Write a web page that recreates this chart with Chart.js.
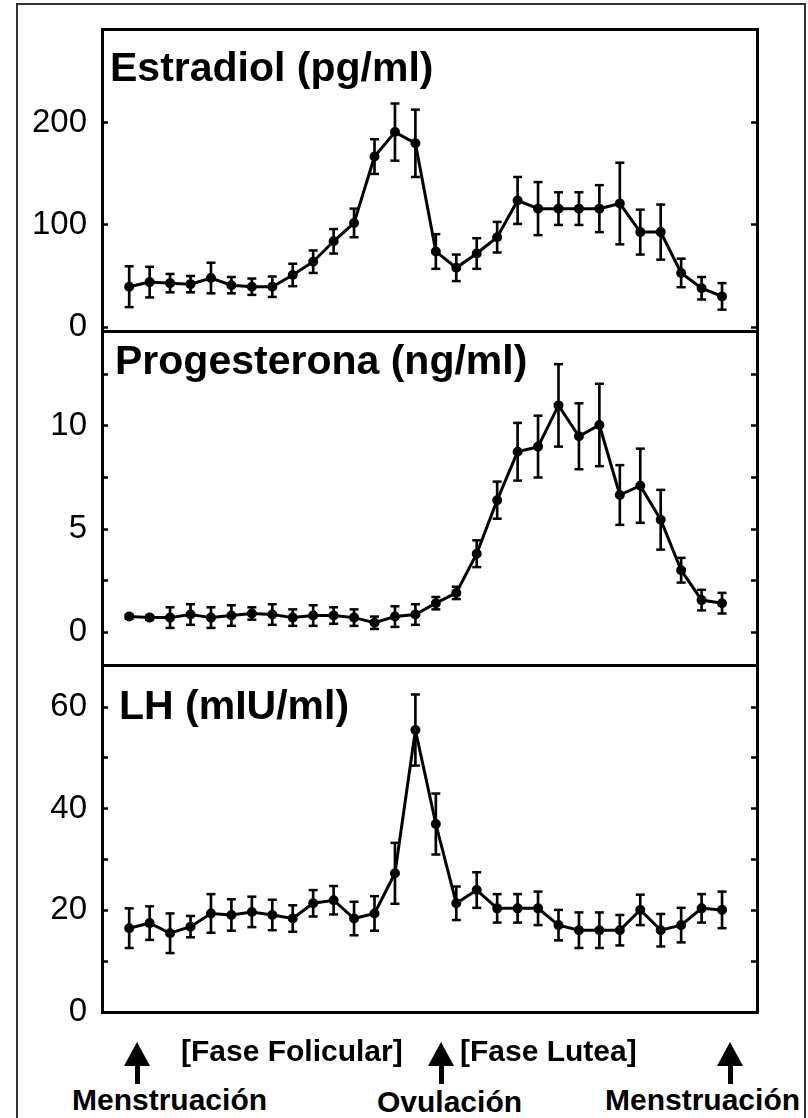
<!DOCTYPE html>
<html>
<head>
<meta charset="utf-8">
<title>Ciclo menstrual - hormonas</title>
<script src="https://cdn.jsdelivr.net/npm/chart.js@4/dist/chart.umd.min.js"></script>
<style>
  body { margin: 0; width: 808px; height: 1118px; overflow: hidden; background: #fff; position: relative;
         font-family: "Liberation Sans", Arial, sans-serif; color: #000; }
  #frame { position: absolute; left: 16px; top: 3px; width: 786px; height: 1140px; border: 2px solid #333; }
  canvas { position: absolute; left: 0; }
  .title { position: absolute; font-weight: bold; font-size: 41px; line-height: 41px; white-space: nowrap; }
  .note { position: absolute; font-weight: bold; font-size: 30px; line-height: 30px; white-space: nowrap; }
  .head { position: absolute; width: 0; height: 0; border-left: 13px solid transparent;
          border-right: 13px solid transparent; border-bottom: 24px solid #000; }
  .shaft { position: absolute; width: 5px; height: 18px; background: #000; }
</style>
</head>
<body>
<div id="frame"></div>

<canvas id="estCanvas" width="808" height="322" style="top:19px"></canvas>
<canvas id="progCanvas" width="808" height="354" style="top:321px"></canvas>
<canvas id="lhCanvas" width="808" height="380" style="top:655px"></canvas>

<div class="title" style="left:110px; top:47px">Estradiol (pg/ml)</div>
<div class="title" style="left:115px; top:340px">Progesterona (ng/ml)</div>
<div class="title" style="left:119px; top:685px">LH (mIU/ml)</div>

<!-- fases y eventos bajo el eje -->
<div class="note" style="left:181px; top:1036px">[Fase Folicular]</div>
<div class="note" style="left:460px; top:1036px">[Fase Lutea]</div>
<div class="note" style="left:72px; top:1085px">Menstruación</div>
<div class="note" style="left:377px; top:1087px">Ovulación</div>
<div class="note" style="left:605px; top:1085px">Menstruación</div>

<div class="head" style="left:124px; top:1042px"></div><div class="shaft" style="left:135px; top:1066px"></div>
<div class="head" style="left:428px; top:1042px"></div><div class="shaft" style="left:439px; top:1066px"></div>
<div class="head" style="left:717px; top:1042px"></div><div class="shaft" style="left:728px; top:1066px"></div>

<script>
// Days of the cycle (x values)
const days = [1, 2, 3, 4, 5, 6, 7, 8, 9, 10, 11, 12, 13, 14, 15,
              16, 17, 18, 19, 20, 21, 22, 23, 24, 25, 26, 27, 28, 29, 30];

// Estradiol (pg/ml) mean and error
const estradiol = [39.5, 44, 43, 42, 48, 41, 39.5, 39.5, 51, 64, 84, 102, 167, 191, 180,
                   74, 58, 72, 88, 124, 116, 116, 116, 116, 121, 93, 93, 53, 38, 30];
const estradiolErr = [20, 15, 9, 8, 15, 8, 8, 10, 11, 11, 12, 14, 17, 28, 33,
                      17, 13, 15, 15, 23, 26, 16, 16, 23, 40, 22, 27, 14, 11, 13];
const estradiolTicks = [0, 100, 200];
const estradiolLabels = [0, 100, 200];

// Progesterona (ng/ml) mean and error
const progesterone = [0.75, 0.7, 0.7, 0.85, 0.7, 0.8, 0.9, 0.85, 0.7, 0.8, 0.8, 0.7, 0.45, 0.75, 0.85,
                      1.4, 1.9, 3.8, 6.4, 8.75, 9.0, 11.0, 9.5, 10.05, 6.65, 7.1, 5.45, 3.0, 1.55, 1.4];
const progesteroneErr = [0.1, 0.1, 0.5, 0.5, 0.5, 0.5, 0.3, 0.5, 0.4, 0.5, 0.4, 0.4, 0.3, 0.5, 0.5,
                         0.3, 0.3, 0.65, 0.9, 1.4, 1.5, 2.0, 1.6, 2.0, 1.45, 1.8, 1.45, 0.6, 0.5, 0.5];
const progesteroneTicks = [0, 2.5, 5, 7.5, 10, 12.5];
const progesteroneLabels = [0, 5, 10];

// LH (mIU/ml) mean and error
const lh = [16.5, 17.5, 15.5, 16.8, 19.4, 19.1, 19.7, 19.1, 18.4, 21.4, 22.0, 18.4, 19.4, 27.3, 55.5,
            37, 21.4, 24, 20.4, 20.4, 20.4, 17.1, 16.1, 16.1, 16.1, 20.1, 16.1, 17.1, 20.4, 20.1];
const lhErr = [3.9, 3.3, 3.9, 2.1, 3.8, 3.1, 3, 3, 2.6, 2.6, 2.8, 3.3, 3.4, 6, 7,
               6, 3.3, 3.5, 2.8, 2.8, 3.3, 3, 3.5, 3.5, 3, 3, 3.2, 3.4, 2.8, 3.6];
const lhTicks = [0, 10, 20, 30, 40, 50, 60];
const lhLabels = [0, 20, 40, 60];

Chart.defaults.font.family = '"Liberation Sans", Arial, sans-serif';
Chart.defaults.color = '#000';

// Build one panel: line with points, floating bars for the error whiskers, line markers for caps
function makePanel(canvasId, values, errors, yMin, yMax, marks, labels, padTop, padBottom) {
    const linePts = days.map((d, i) => ({ x: d, y: values[i] }));
    const whiskers = days.map((d, i) => ({ x: d, y: [values[i] - errors[i], values[i] + errors[i]] }));
    const caps = [];
    days.forEach((d, i) => {
        caps.push({ x: d, y: values[i] - errors[i] });
        caps.push({ x: d, y: values[i] + errors[i] });
    });

    const setMarks = scale => { scale.ticks = marks.map(v => ({ value: v })); };
    const border = { display: true, width: 3, color: '#000' };
    // fixed axis sizes so the plot box lands where the original has it
    const fitX = s => { s.height = 1; s.paddingLeft = 0; s.paddingRight = 0; };
    const fitY = w => s => { s.width = w; s.paddingTop = 0; s.paddingBottom = 0; };

    return new Chart(document.getElementById(canvasId).getContext('2d'), {
        type: 'line',
        data: {
            datasets: [
                {
                    data: linePts,
                    borderColor: '#000',
                    borderWidth: 3,
                    tension: 0,
                    pointRadius: 3.5,
                    pointBackgroundColor: '#000',
                    pointBorderColor: '#000',
                    order: 0
                },
                {
                    type: 'line',
                    data: caps,
                    showLine: false,
                    pointStyle: 'line',
                    pointRadius: 4.5,
                    pointBorderWidth: 2.5,
                    pointBorderColor: '#000',
                    order: 1
                },
                {
                    type: 'bar',
                    data: whiskers,
                    backgroundColor: '#000',
                    barThickness: 2,
                    order: 2
                }
            ]
        },
        options: {
            responsive: false,
            animation: false,
            devicePixelRatio: 1,
            layout: { autoPadding: false, padding: { top: padTop, bottom: padBottom, left: 0, right: 0 } },
            plugins: { legend: { display: false }, tooltip: { enabled: false } },
            scales: {
                x: {
                    type: 'linear', position: 'bottom', min: -0.33, max: 31.71, offset: false,
                    ticks: { display: false }, grid: { display: false, offset: false }, border: border,
                    afterFit: fitX
                },
                xt: {
                    type: 'linear', position: 'top', min: -0.33, max: 31.71, offset: false,
                    ticks: { display: false }, grid: { display: false, offset: false }, border: border,
                    afterFit: fitX
                },
                y: {
                    position: 'left', min: yMin, max: yMax,
                    afterBuildTicks: setMarks,
                    afterFit: fitY(102),
                    ticks: {
                        autoSkip: false, padding: 21, color: '#000',
                        font: { size: 33 },
                        callback: v => labels.includes(v) ? String(v) : ''
                    },
                    grid: { drawOnChartArea: false, tickLength: -6, tickWidth: 2.5, color: '#000' },
                    border: border
                },
                yr: {
                    position: 'right', min: yMin, max: yMax,
                    afterBuildTicks: setMarks,
                    afterFit: fitY(51),
                    ticks: { display: false },
                    grid: { drawOnChartArea: false, tickLength: -6, tickWidth: 2.5, color: '#000' },
                    border: border
                }
            }
        }
    });
}

// canvas tops 19 / 321 / 655; plot boxes 29-331, 331-665, 665-1012
makePanel('estCanvas', estradiol, estradiolErr, -3.9, 292, estradiolTicks, estradiolLabels, 9, 9);
makePanel('progCanvas', progesterone, progesteroneErr, -1.6, 14.61, progesteroneTicks, progesteroneLabels, 9, 9);
makePanel('lhCanvas', lh, lhErr, 0, 68.3, lhTicks, lhLabels, 9, 22);
</script>
</body>
</html>
